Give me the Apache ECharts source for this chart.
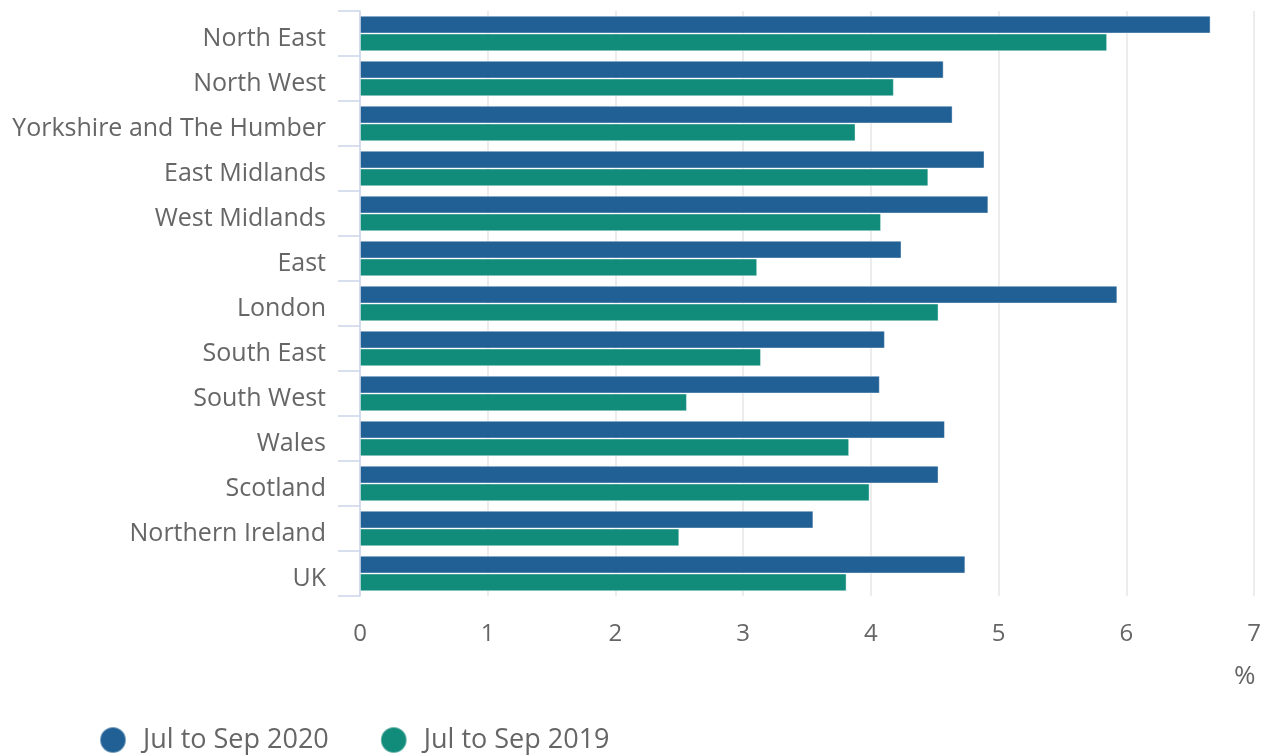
<!DOCTYPE html>
<html>
<head>
<meta charset="utf-8">
<script src="https://cdn.jsdelivr.net/npm/echarts@6/dist/echarts.min.js"></script>
<style>
html,body{margin:0;padding:0;background:#fff;}
#chart{width:1267px;height:755px;}
</style>
</head>
<body>
<div id="chart"></div>
<script>
const categories = ['North East','North West','Yorkshire and The Humber','East Midlands','West Midlands','East','London','South East','South West','Wales','Scotland','Northern Ireland','UK'];
const series2020 = [6.66, 4.57, 4.64, 4.89, 4.92, 4.24, 5.93, 4.11, 4.07, 4.58, 4.53, 3.55, 4.74];
const series2019 = [5.85, 4.18, 3.88, 4.45, 4.08, 3.11, 4.53, 3.14, 2.56, 3.83, 3.99, 2.50, 3.81];
const seriesNames = ['Jul to Sep 2020', 'Jul to Sep 2019'];
const xTicks = {min: 0, max: 7, interval: 1};
const unitLabel = '%';

const font = '"Open Sans", "Noto Sans", sans-serif';
const chart = echarts.init(document.getElementById('chart'));
chart.setOption({
  animation: false,
  textStyle: {fontFamily: font},
  grid: {left: 360, right: 13, top: 11, bottom: 159, containLabel: false},
  xAxis: {
    type: 'value', min: xTicks.min, max: xTicks.max, interval: xTicks.interval,
    axisLine: {show: false}, axisTick: {show: false},
    splitLine: {show: true, lineStyle: {color: '#e6e6e6', width: 1.5}},
    axisLabel: {color: '#666666', fontSize: 24, margin: 26, fontFamily: font}
  },
  yAxis: {
    type: 'category', data: categories, inverse: true,
    axisLine: {show: true, lineStyle: {color: '#ccd6eb', width: 1.5}},
    axisTick: {show: true, length: 22, lineStyle: {color: '#ccd6eb', width: 1.5}},
    axisLabel: {color: '#666666', fontSize: 25, margin: 34, fontFamily: font,
                verticalAlign: 'top', lineHeight: 10}
  },
  legend: {
    left: 94, top: 721, icon: 'circle', itemWidth: 26, itemHeight: 26, itemGap: 51,
    textStyle: {color: '#666666', fontSize: 27, fontFamily: font, padding: [0, 0, 0, 12]}
  },
  graphic: [{
    type: 'text', left: 1234, top: 664,
    style: {text: unitLabel, fill: '#666666', font: '26px ' + font}
  }],
  series: [
    {name: seriesNames[0], type: 'bar', data: series2020, barGap: '0%', barCategoryGap: '21%',
     itemStyle: {color: '#206095', borderColor: 'rgba(255,255,255,0.4)', borderWidth: 1}},
    {name: seriesNames[1], type: 'bar', data: series2019, barGap: '0%', barCategoryGap: '21%',
     itemStyle: {color: '#118c7b', borderColor: 'rgba(255,255,255,0.4)', borderWidth: 1}}
  ]
});
</script>
</body>
</html>
